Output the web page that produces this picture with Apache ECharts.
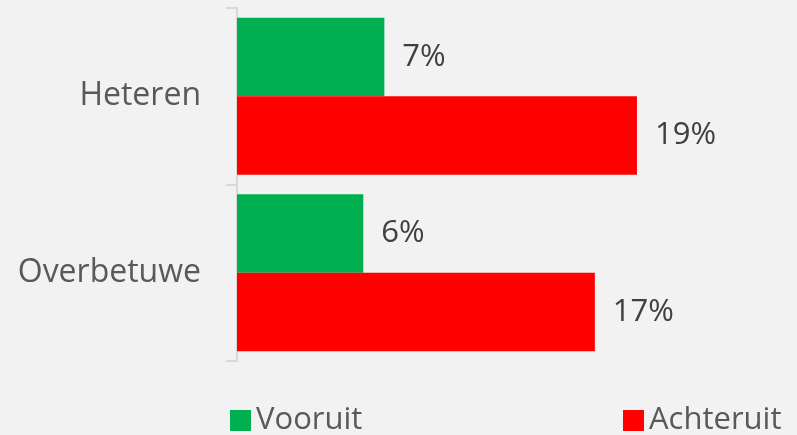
<!DOCTYPE html>
<html>
<head>
<meta charset="utf-8">
<script src="https://cdn.jsdelivr.net/npm/echarts@6/dist/echarts.min.js"></script>
<style>
  html, body { margin: 0; padding: 0; background: #f2f2f2; }
  #chart { width: 797px; height: 435px; }
</style>
</head>
<body>
<div id="chart"></div>
<script>
var categories = ['Heteren', 'Overbetuwe']
var vooruit = [7, 6]
var achteruit = [19, 17]

var myChart = echarts.init(document.getElementById('chart'))
var font = '"Open Sans", sans-serif'

myChart.setOption({
  backgroundColor: '#f2f2f2',
  animation: false,
  legend: [{
    data: ['Vooruit'],
    left: 225,
    top: 400,
    itemWidth: 21,
    itemHeight: 21,
    itemGap: 6,
    icon: 'rect',
    textStyle: { color: '#595959', fontSize: 31, fontFamily: font }
  }, {
    data: ['Achteruit'],
    left: 618,
    top: 400,
    itemWidth: 21,
    itemHeight: 21,
    itemGap: 6,
    icon: 'rect',
    textStyle: { color: '#595959', fontSize: 31, fontFamily: font }
  }],
  grid: {
    left: 237,
    top: 8,
    width: 421,
    height: 353
  },
  xAxis: {
    type: 'value',
    min: 0,
    max: 20,
    show: false
  },
  yAxis: {
    type: 'category',
    data: categories,
    inverse: true,
    axisLine: { lineStyle: { color: '#d9d9d9', width: 2 } },
    axisTick: { show: true, length: 11, lineStyle: { color: '#d9d9d9', width: 2 } },
    axisLabel: { color: '#595959', fontSize: 32, fontFamily: font, margin: 36 }
  },
  series: [{
    name: 'Vooruit',
    type: 'bar',
    data: vooruit,
    barGap: '0%',
    barCategoryGap: '11%',
    itemStyle: { color: '#00b050' },
    label: {
      show: true,
      position: 'right',
      distance: 18,
      formatter: '{c}%',
      color: '#404040',
      fontSize: 31,
      fontFamily: font
    }
  }, {
    name: 'Achteruit',
    type: 'bar',
    data: achteruit,
    barGap: '0%',
    barCategoryGap: '11%',
    itemStyle: { color: '#ff0000' },
    label: {
      show: true,
      position: 'right',
      distance: 18,
      formatter: '{c}%',
      color: '#404040',
      fontSize: 31,
      fontFamily: font
    }
  }]
})
</script>
</body>
</html>
